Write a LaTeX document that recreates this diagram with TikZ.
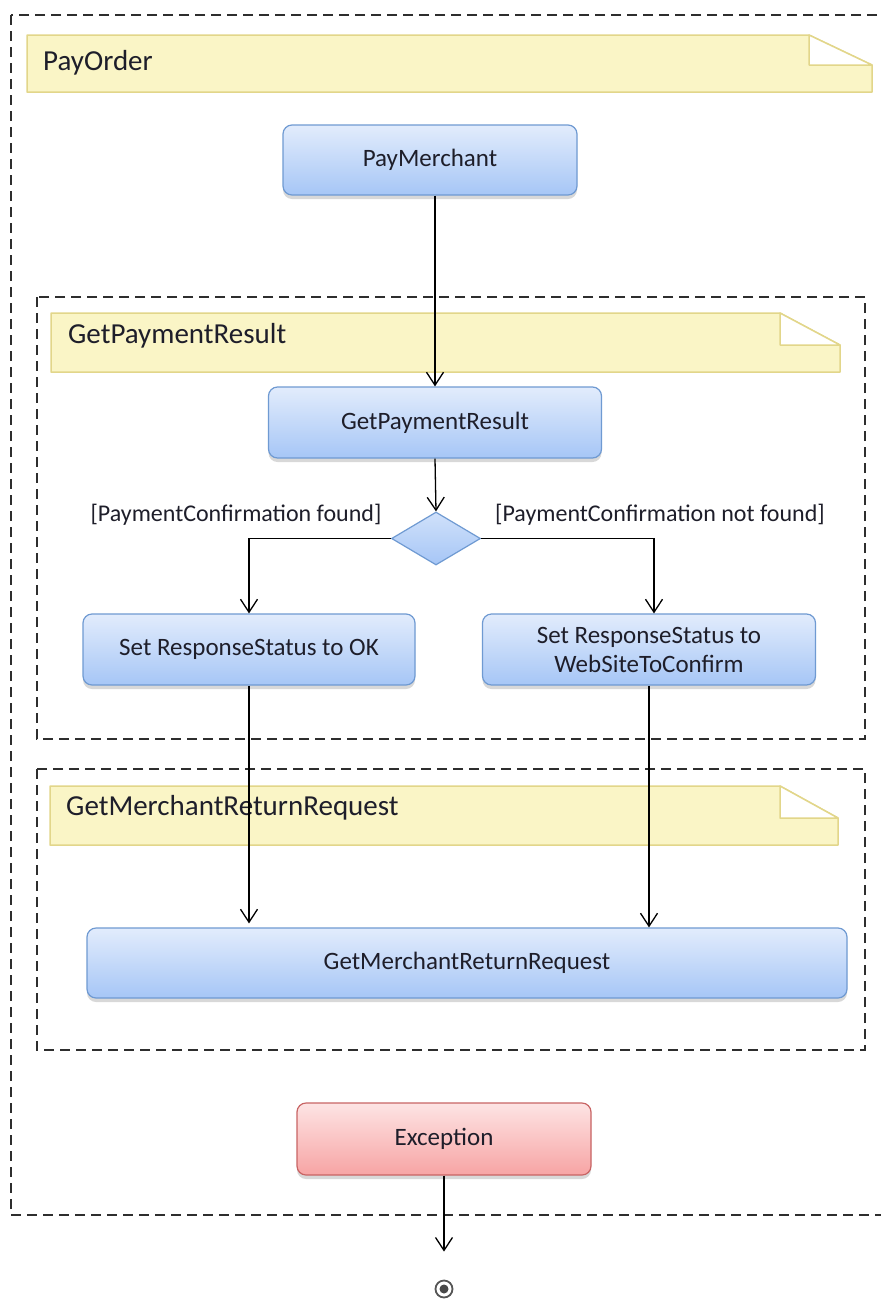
\documentclass[tikz,border=0pt]{standalone}
\usepackage{fontspec}
\setmainfont{Carlito}
\usetikzlibrary{shapes.geometric,arrows.meta,shadows}
\definecolor{txt}{HTML}{1E1E2A}
\definecolor{boxtop}{HTML}{E2ECFC}
\definecolor{boxbot}{HTML}{A6C6F6}
\definecolor{boxln}{HTML}{6F9AD2}
\definecolor{redtop}{HTML}{FDE4E4}
\definecolor{redbot}{HTML}{F7A4A4}
\definecolor{redln}{HTML}{C86464}
\definecolor{notefill}{HTML}{FAF5C6}
\definecolor{noteln}{HTML}{E2D68A}
\definecolor{dashln}{HTML}{2E2E2E}
\definecolor{finalgray}{HTML}{555555}
\tikzset{
  act/.style={rectangle, rounded corners=9pt, draw=boxln, line width=1.2pt,
    top color=boxtop, bottom color=boxbot, text=txt, align=center,
    font=\fontsize{25}{29}\selectfont, inner sep=0pt,
    drop shadow={shadow xshift=0pt, shadow yshift=-4pt, opacity=0.3}},
  excact/.style={act, draw=redln, top color=redtop, bottom color=redbot},
  decision/.style={diamond, draw=boxln, line width=1.2pt,
    top color=boxtop!70!boxbot, bottom color=boxbot,
    inner sep=0pt, minimum width=89pt, minimum height=53pt},
  container/.style={draw=dashln, line width=1.5pt, dash pattern=on 10pt off 6pt},
  notebody/.style={fill=notefill, draw=noteln, line width=1.5pt, line join=round},
  notetext/.style={anchor=west, text=txt, font=\fontsize{29}{34}\selectfont, inner sep=0pt},
  guard/.style={text=txt, font=\fontsize{24}{28}\selectfont, inner sep=0pt},
  flow/.style={draw=black, line width=1.3pt, -{Straight Barb[length=13pt,width=17pt,line width=1.3pt]}},
}
\newcommand{\drawnotebox}[6]{%
  \draw[notebody] (#1,#2) -- (#5,#2) -- (#3,#6) -- (#3,#4) -- (#1,#4) -- cycle;
  \draw[notebody, fill=white] (#5,#2) -- (#3,#6) -- (#5,#6) -- cycle;
}
\begin{document}
\begin{tikzpicture}[x=1pt, y=-1pt]
\useasboundingbox (0,0) rectangle (881,1299);
\fill[white] (0,0) rectangle (881,1299);

% containers
\draw[container] (11,15) rectangle (900,1215);
\draw[container] (37,297) rectangle (865,739);
\draw[container] (37,769) rectangle (865,1050);

% notes
\drawnotebox{27}{35}{872}{92}{809}{65}
\node[notetext] (tPayOrder) at (43,63) {PayOrder};
\drawnotebox{51}{313}{840}{372}{780}{345}
\node[notetext] (tGPR) at (68,336) {GetPaymentResult};
\drawnotebox{50}{786}{838}{845}{780}{818}
\node[notetext] (tGMR) at (66,808) {GetMerchantReturnRequest};

% activities
\node[act, minimum width=294pt, minimum height=70pt] (pm) at (430,160) {PayMerchant};
\node[act, minimum width=333pt, minimum height=71pt] (gpr) at (435,422.5) {GetPaymentResult};
\node[decision] (dia) at (436,538.5) {};
\node[guard] (gl) at (236,515) {[PaymentConfirmation found]};
\node[guard] (gr) at (660,515) {[PaymentConfirmation not found]};
\node[act, minimum width=332pt, minimum height=71pt] (ok) at (249,649.5) {Set ResponseStatus to OK};
\node[act, minimum width=333pt, minimum height=71pt] (wsc) at (649,649.5) {Set ResponseStatus to\\WebSiteToConfirm};
\node[act, minimum width=760pt, minimum height=70pt] (gmr) at (467,963) {GetMerchantReturnRequest};
\node[excact, minimum width=294pt, minimum height=72pt] (exc) at (444,1139) {Exception};
\node[circle, draw=finalgray, line width=1.8pt, minimum size=17pt, inner sep=0pt] (final) at (444,1289) {};
\fill[finalgray!85!black] (final.center) circle (4.5pt);

% flows
\draw[flow] (gpr.north |- pm.south) -- (gpr.north);
\draw[flow] (gpr.south) -- (dia.north);
\draw[flow] (dia.west) -| (ok.north);
\draw[flow] (dia.east) -| ([xshift=5pt]wsc.north);
\draw[flow] (ok.south) -- ([yshift=4pt]ok.south |- gmr.north);
\draw[flow] (wsc.south) -- (wsc.south |- gmr.north);
\draw[flow] (exc.south) -- ([yshift=28pt]final.north);
\end{tikzpicture}
\end{document}
